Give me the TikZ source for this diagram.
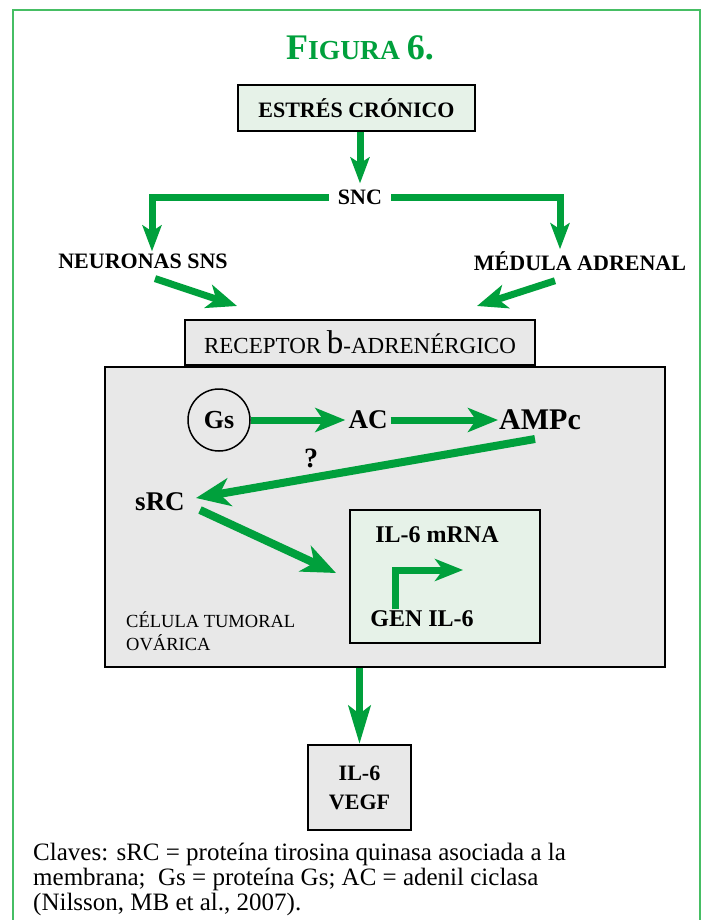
\documentclass[tikz,border=0pt]{standalone}
\usepackage{fontspec}
\setmainfont{Liberation Serif}
\usetikzlibrary{arrows.meta,positioning}
\definecolor{agreen}{RGB}{0,160,60}
\definecolor{fgreen}{RGB}{70,190,100}
\definecolor{lgreen}{RGB}{230,242,232}
\definecolor{lgray}{RGB}{232,232,232}
\newcommand\fs[1]{\fontsize{#1}{#1}\selectfont}
\tikzset{
  x=1pt,y=-1pt,
  box/.style={draw=black,line width=2.2pt,inner sep=0pt},
  lab/.style={font=\bfseries\fs{22}},
  big/.style={font=\bfseries\fs{27}},
  arr/.style={draw=agreen,line width=7pt,-{Stealth[length=30pt,width=24pt,inset=8pt]}},
  sarr/.style={draw=agreen,line width=7pt,-{Stealth[length=26pt,width=19pt,inset=6pt]}},
  barr/.style={draw=agreen,line width=8pt,-{Stealth[length=34pt,width=28pt,inset=10pt]}},
  captxt/.style={anchor=base west,inner sep=0pt,font=\fs{25}},
}
\begin{document}
\begin{tikzpicture}
\useasboundingbox (0,0) rectangle (707,920);
\fill[white] (0,0) rectangle (707,920);
\draw[fgreen,line width=1.3pt] (13,925) -- (13,10) -- (700,10) -- (700,925);
% title
\node[text=agreen,font=\bfseries,anchor=base] (title) at (360,60) {\fs{36}F\fs{27.5}IGURA \fs{36}6.};
% top
\node[box,fill=lgreen,minimum width=237pt,minimum height=46pt,lab] (estres) at (356.5,108) {ESTRÉS CRÓNICO};
\node[lab,inner xsep=9pt,inner ysep=6pt] (snc) at (360,197) {SNC};
\node[lab,inner sep=2pt] (neur) at (143,261) {NEURONAS SNS};
\node[lab,inner sep=2pt] (med) at (580,261) {MÉDULA ADRENAL};
\draw[sarr] (estres.south -| snc) -- (snc.north);
\draw[sarr,line cap=butt] (snc.west) -| ([xshift=9pt]neur.north);
\draw[sarr,line cap=butt] (snc.east) -| ([xshift=-20pt]med.north);
% receptor
\node[box,fill=lgray,minimum width=350pt,minimum height=45pt,font=\fs{23}] (rec) at (360,342.5) {RECEPTOR \fs{33}b\fs{23}-ADRENÉRGICO};
\coordinate (nt) at (237,306);
\coordinate (mt) at (477,306);
\draw[arr] ([xshift=12pt,yshift=-8pt]neur.south) -- (nt);
\draw[arr] ([xshift=-25pt,yshift=-8pt]med.south) -- (mt);
% cell
\node[box,line width=2pt,fill=lgray,minimum width=560pt,minimum height=300pt] (cell) at (385,517) {};
\node[draw=black,line width=1.5pt,circle,minimum size=62pt,inner sep=0pt,font=\bfseries\fs{26}] (gs) at (219,420) {Gs};
\node[big,inner xsep=3pt] (ac) at (368,420) {AC};
\node[big,font=\bfseries\fs{30},inner xsep=1pt] (ampc) at (540,420) {AMPc};
\node[font=\bfseries\fs{28}] (q) at (311,458) {?};
\node[big,inner sep=3pt] (src) at (160,502) {sRC};
\draw[arr] (gs.east) -- (ac.west);
\draw[arr] (ac.east) -- (ampc.west);
\coordinate (ampcs) at (535,439);
\coordinate (srct) at (196,498);
\draw[barr] (ampcs) -- (srct);
% gene box
\node[box,line width=2pt,fill=lgreen,minimum width=190pt,minimum height=133pt] (gene) at (445,576.5) {};
\coordinate (srcs) at (200,510);
\coordinate (genet) at (336,573);
\draw[barr] (srcs) -- (genet);
\node[font=\bfseries\fs{24}] (mrna) at (437,535) {IL-6 mRNA};
\node[font=\bfseries\fs{24}] (gen) at (422,619) {GEN IL-6};
\coordinate (bt) at (463,570);
\draw[arr,-{Stealth[length=28pt,width=22pt,inset=8pt]},line cap=butt] ([xshift=-27pt,yshift=-2pt]gen.north) |- (bt);
\node[anchor=base west,inner sep=0pt,font=\fs{18.5}] (clab1) at (126,627) {CÉLULA TUMORAL};
\node[anchor=base west,inner sep=0pt,font=\fs{18.5}] (clab2) at (126,650) {OVÁRICA};
% output
\node[box,fill=lgray,minimum width=103pt,minimum height=85pt,align=center,font=\bfseries\fs{22}] (vegf) at (359.5,787.5) {IL-6\\[7pt]VEGF};
\draw[arr,-{Stealth[length=38pt,width=22pt,inset=8pt]}] (cell.south -| vegf) -- (vegf.north);
% caption
\node[captxt] (cap1) at (33,860) {Claves: sRC = proteína tirosina quinasa asociada a la};
\node[captxt] (cap2) at (33,885) {membrana;\ \ Gs = proteína Gs; AC = adenil ciclasa};
\node[captxt] (cap3) at (33,910) {(Nilsson, MB et al., 2007).};
\end{tikzpicture}
\end{document}
